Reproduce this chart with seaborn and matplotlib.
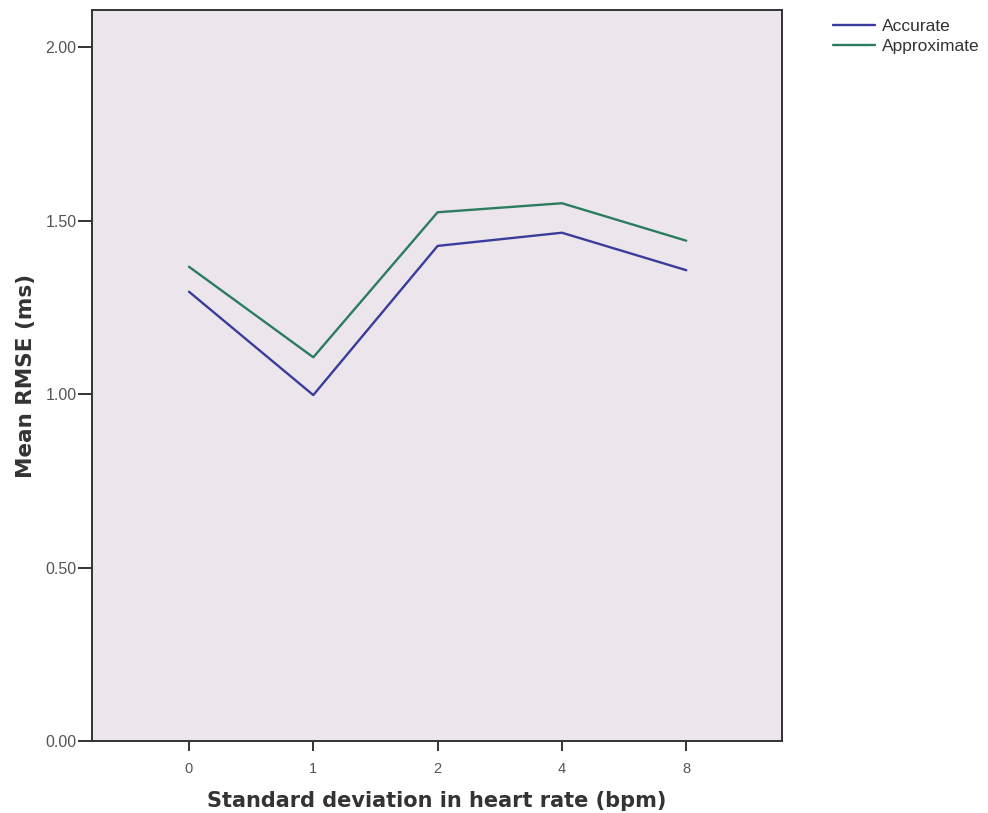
import matplotlib
matplotlib.use("Agg")
import matplotlib.pyplot as plt
import seaborn as sns
import pandas as pd
from matplotlib.lines import Line2D

categories = ["0", "1", "2", "4", "8"]
accurate = [1.295, 0.997, 1.427, 1.465, 1.357]
approximate = [1.367, 1.106, 1.524, 1.550, 1.442]
series_names = ["Accurate", "Approximate"]
y_ticks = [0.0, 0.5, 1.0, 1.5, 2.0]
y_tick_labels = ["0.00", "0.50", "1.00", "1.50", "2.00"]

df = pd.DataFrame({
    "pos": list(range(len(categories))) * 2,
    "value": accurate + approximate,
    "series": [series_names[0]] * len(categories) + [series_names[1]] * len(categories),
})

sns.set_style("white")
plt.rcParams["font.family"] = ["Liberation Sans", "DejaVu Sans"]

fig = plt.figure(figsize=(9.88, 8.13), dpi=100)
ax = fig.add_axes([0.0931, 0.0886, 0.6984, 0.8991])
ax.set_facecolor("#ece6ec")

palette = {"Accurate": "#3a3c9c", "Approximate": "#2c7c5e"}
sns.lineplot(data=df, x="pos", y="value", hue="series", palette=palette,
             linewidth=1.7, ax=ax, legend=False, sort=False)

ax.set_xlim(-0.78, 4.77)
ax.set_ylim(0, 2.107)
ax.set_xticks(range(len(categories)))
ax.set_xticklabels(categories)
ax.set_yticks(y_ticks)
ax.set_yticklabels(y_tick_labels)

for s in ax.spines.values():
    s.set_visible(True)
    s.set_color("#333333")
    s.set_linewidth(1.4)

ax.tick_params(axis="both", which="major", direction="out", width=1.4,
               color="#333333", labelcolor="#555555", bottom=True, left=True)
ax.tick_params(axis="y", length=10, pad=1, labelsize=11.5)
ax.tick_params(axis="x", length=7, pad=8, labelsize=10.5)

ax.set_xlabel("Standard deviation in heart rate (bpm)", fontsize=15,
              fontweight="bold", family="DejaVu Sans", color="#333333", labelpad=11)
ax.set_ylabel("Mean RMSE (ms)", fontsize=15.5, fontweight="bold",
              family="DejaVu Sans", color="#333333", labelpad=7)

handles = [Line2D([0], [0], color=palette[n], lw=1.7) for n in series_names]
fig.legend(handles, series_names, loc="upper left", bbox_to_anchor=(0.843, 0.9764),
           frameon=False, fontsize=12.5, handlelength=2.4, handletextpad=0.45,
           labelspacing=0.25, borderpad=0, borderaxespad=0, labelcolor="#333333")

fig.savefig("out.png", dpi=100, facecolor="white")
